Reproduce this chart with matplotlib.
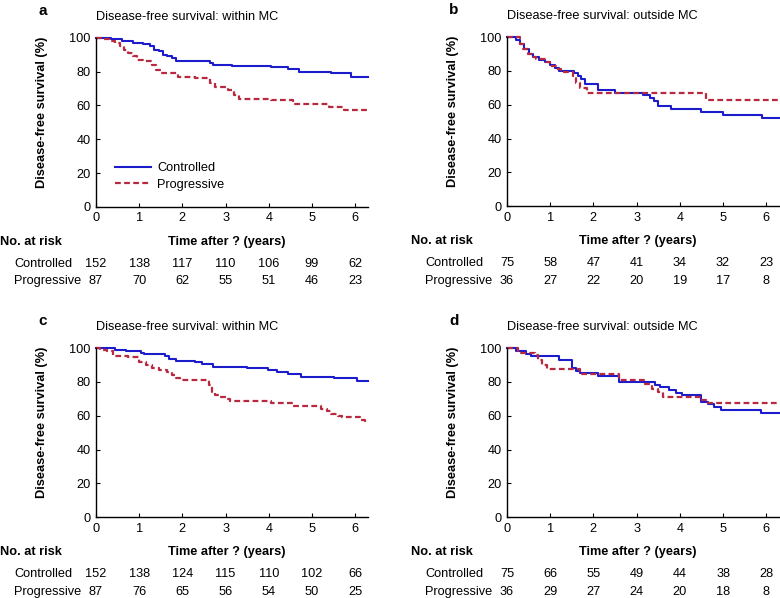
import matplotlib
matplotlib.use("Agg")
import matplotlib.pyplot as plt

plt.rcParams['font.family'] = ['Liberation Sans', 'DejaVu Sans']
plt.rcParams['font.size'] = 9.2

BLUE = '#1c1ccc'
RED = '#b8283f'
FS = 9.2

# Kaplan-Meier steps (time in years, survival in %)
a_ctrl_t = [0, 0.35, 0.6, 0.85, 1.1, 1.25, 1.35, 1.45, 1.55, 1.65, 1.75, 1.85, 2.65, 2.72, 3.15, 4.05, 4.45, 4.7, 5.45, 5.9, 6.3]
a_ctrl_s = [100, 99, 98, 97, 96, 95, 93, 92, 90, 89, 88, 86.5, 85, 84, 83.5, 82.5, 81.5, 80, 79, 77, 77]
a_prog_t = [0, 0.15, 0.3, 0.45, 0.55, 0.65, 0.75, 0.85, 0.95, 1.1, 1.3, 1.4, 1.5, 1.9, 2.3, 2.65, 2.75, 3.05, 3.2, 3.3, 4.05, 4.55, 5.4, 5.75, 6.3]
a_prog_s = [100, 99, 98, 97, 95, 93, 91, 89, 87, 86, 84, 81, 79, 77, 76, 73, 71, 69, 66, 64, 63, 61, 59, 57, 57]

b_ctrl_t = [0, 0.2, 0.3, 0.4, 0.5, 0.6, 0.75, 0.88, 1.0, 1.12, 1.2, 1.55, 1.65, 1.72, 1.8, 2.1, 2.5, 3.15, 3.3, 3.4, 3.5, 3.8, 4.5, 5.0, 5.9, 6.3]
b_ctrl_s = [100, 98, 96, 93, 90, 88, 86.5, 85, 83.5, 82, 80, 78.5, 77, 75, 72, 69, 67, 66, 64, 62, 59.5, 57.5, 56, 54, 52, 52]
b_prog_t = [0, 0.3, 0.38, 0.48, 0.57, 0.67, 0.9, 1.0, 1.15, 1.25, 1.52, 1.6, 1.7, 1.85, 4.6, 6.3]
b_prog_s = [100, 96, 93, 90, 88, 87, 85, 83, 81, 79.5, 77, 73, 70, 67, 63, 63]

c_ctrl_t = [0, 0.45, 0.7, 1.05, 1.12, 1.6, 1.7, 1.85, 2.3, 2.45, 2.7, 3.5, 3.98, 4.2, 4.45, 4.75, 5.5, 6.05, 6.3]
c_ctrl_s = [100, 99, 98, 97, 96.4, 95, 93.5, 92.5, 91.5, 90.5, 89, 88, 87, 86, 84.5, 83, 82, 80.5, 80.5]
c_prog_t = [0, 0.1, 0.25, 0.4, 0.75, 1.0, 1.15, 1.3, 1.45, 1.65, 1.75, 1.85, 1.95, 2.62, 2.68, 2.75, 2.85, 3.0, 3.1,
            4.05, 4.55, 5.22, 5.35, 5.45, 5.6, 5.7, 6.12, 6.22, 6.3]
c_prog_s = [100, 99, 98, 95.5, 94.5, 92, 90, 88, 87, 86, 84, 82, 81, 78, 74, 72, 71, 70, 68.5,
            67.3, 66, 64, 62.5, 61, 60, 59, 57.5, 56, 56]

d_ctrl_t = [0, 0.2, 0.45, 0.55, 1.2, 1.5, 1.6, 1.7, 2.1, 2.6, 3.42, 3.55, 3.75, 3.9, 4.05, 4.5, 4.65, 4.78, 4.95, 5.88, 6.3]
d_ctrl_s = [100, 98, 96.4, 95, 92.7, 88, 86.5, 85, 83.6, 80, 78, 76.8, 75, 73.5, 72, 68.3, 67, 65, 63.3, 61.4, 61.4]
d_prog_t = [0, 0.25, 0.65, 0.72, 0.82, 0.92, 1.68, 2.6, 3.2, 3.35, 3.5, 3.6, 4.52, 4.6, 6.3]
d_prog_s = [100, 97, 96, 93, 90, 87.5, 84.6, 81.2, 79, 76, 74, 71, 69, 67.3, 67.3]

# numbers at risk at years 0..6
risk_years = [0, 1, 2, 3, 4, 5, 6]
a_ctrl_risk = [152, 138, 117, 110, 106, 99, 62]
a_prog_risk = [87, 70, 62, 55, 51, 46, 23]
b_ctrl_risk = [75, 58, 47, 41, 34, 32, 23]
b_prog_risk = [36, 27, 22, 20, 19, 17, 8]
c_ctrl_risk = [152, 138, 124, 115, 110, 102, 66]
c_prog_risk = [87, 76, 65, 56, 54, 50, 25]
d_ctrl_risk = [75, 66, 55, 49, 44, 38, 28]
d_prog_risk = [36, 29, 27, 24, 20, 18, 8]

panels = [
    ('a', 'Disease-free survival: within MC', a_ctrl_t, a_ctrl_s, a_prog_t, a_prog_s, a_ctrl_risk, a_prog_risk),
    ('b', 'Disease-free survival: outside MC', b_ctrl_t, b_ctrl_s, b_prog_t, b_prog_s, b_ctrl_risk, b_prog_risk),
    ('c', 'Disease-free survival: within MC', c_ctrl_t, c_ctrl_s, c_prog_t, c_prog_s, c_ctrl_risk, c_prog_risk),
    ('d', 'Disease-free survival: outside MC', d_ctrl_t, d_ctrl_s, d_prog_t, d_prog_s, d_ctrl_risk, d_prog_risk),
]

# axes boxes in figure fractions: left, bottom, width, height
boxes = [(0.123, 0.654, 0.349, 0.283), (0.650, 0.655, 0.349, 0.283),
         (0.123, 0.135, 0.349, 0.283), (0.650, 0.135, 0.349, 0.283)]

fig = plt.figure(figsize=(7.8, 5.98), dpi=100)

for (letter, title, ct, cs, pt, ps, crisk, prisk), box in zip(panels, boxes):
    ax = fig.add_axes(box)
    ax.step(ct, cs, where='post', color=BLUE, lw=1.5, clip_on=False, label='Controlled')
    ax.step(pt, ps, where='post', color=RED, lw=1.6, ls=(0, (2.6, 1.5)), clip_on=False, label='Progressive')
    ax.set_xlim(0, 6.3)
    ax.set_ylim(0, 100)
    ax.set_xticks(risk_years)
    ax.set_yticks([0, 20, 40, 60, 80, 100])
    for s in ['top', 'right']:
        ax.spines[s].set_visible(False)
    ax.spines['left'].set_linewidth(1.0)
    ax.spines['bottom'].set_linewidth(1.0)
    ax.tick_params(direction='in', length=3, width=0.8, labelsize=FS)
    ax.tick_params(axis='x', pad=4)
    ax.tick_params(axis='y', pad=4)

    ax.set_ylabel('Disease-free survival (%)', fontweight='bold', fontsize=FS)
    ax.yaxis.set_label_coords(-0.175, 0.56)

    ax.text(0, 1.124, title, transform=ax.transAxes, ha='left', va='center', fontsize=FS)
    ax.text(-0.195, 1.16, letter, transform=ax.transAxes, ha='center', va='center',
            fontsize=11, fontweight='bold')

    # risk table under the axis
    ax.text(0.48, -0.207, 'Time after ? (years)', transform=ax.transAxes, ha='center', va='center',
            fontweight='bold', fontsize=FS)
    ax.text(-0.353, -0.207, 'No. at risk', transform=ax.transAxes, ha='left', va='center',
            fontweight='bold', fontsize=FS)
    ax.text(-0.300, -0.337, 'Controlled', transform=ax.transAxes, ha='left', va='center', fontsize=FS)
    ax.text(-0.300, -0.440, 'Progressive', transform=ax.transAxes, ha='left', va='center', fontsize=FS)
    trans = ax.get_xaxis_transform()
    for yr, nc, npg in zip(risk_years, crisk, prisk):
        ax.text(yr, -0.337, str(nc), transform=trans, ha='center', va='center', fontsize=FS)
        ax.text(yr, -0.440, str(npg), transform=trans, ha='center', va='center', fontsize=FS)

    if letter == 'a':
        ax.legend(loc='upper left', bbox_to_anchor=(0.07, 0.265), frameon=False, fontsize=FS,
                  handlelength=2.8, handletextpad=0.5, labelspacing=0.35, borderpad=0, borderaxespad=0)

fig.savefig('out.png', dpi=100)
